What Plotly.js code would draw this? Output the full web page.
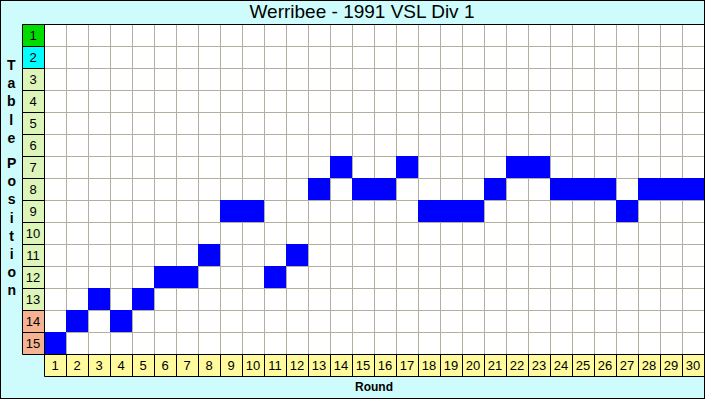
<!DOCTYPE html>
<html>
<head>
<meta charset="utf-8">
<script src="https://cdn.plot.ly/plotly-3.0.1.min.js"></script>
<style>
  html, body { margin: 0; padding: 0; background: #cefcfc; }
  #chart { width: 703px; height: 397px; border: 1px solid #000; }
</style>
</head>
<body>
<div id="chart"></div>
<script>
// ---- data ----
const chartTitle = 'Werribee - 1991 VSL Div 1';
const rounds = [1,2,3,4,5,6,7,8,9,10,11,12,13,14,15,16,17,18,19,20,21,22,23,24,25,26,27,28,29,30];
const roundLabels = ['1','2','3','4','5','6','7','8','9','10','11','12','13','14','15','16','17','18','19','20','21','22','23','24','25','26','27','28','29','30'];
const tablePositions = [1,2,3,4,5,6,7,8,9,10,11,12,13,14,15];
const positionLabels = ['1','2','3','4','5','6','7','8','9','10','11','12','13','14','15'];
const ladderPosition = [15,14,13,14,13,12,12,11,9,9,12,11,8,7,8,8,7,9,9,9,8,7,7,8,8,8,9,8,8,8];

// ---- geometry ----
const W = 682, H = 352, L = 21, T = 23;
const nCols = rounds.length + 1, nRows = tablePositions.length + 1;
const cellW = W / nCols, cellH = H / nRows;
const px = p => (p + 0.5 - L) / W;          // div pixel -> paper x (pixel centre)
const py = p => 1 - (p + 0.5 - T) / H;      // div pixel -> paper y
const colLine = k => px(L + cellW * k);
const rowLine = k => py(T + cellH * k);

// ---- main grid: one blue cell per round ----
const zMain = tablePositions.map(p => rounds.map((r, j) => ladderPosition[j] === p ? 1 : null));

// ---- label cells ----
function posCode(p) { return p === 1 ? 0 : p === 2 ? 1 : p >= 14 ? 3 : 2; }
const lblX = [0].concat(rounds);
const lblY = tablePositions.concat([tablePositions.length + 1]);
const zLbl = [], tLbl = [];
tablePositions.forEach((p, i) => {
  zLbl.push([posCode(p)].concat(rounds.map(() => null)));
  tLbl.push([positionLabels[i]].concat(rounds.map(() => '')));
});
zLbl.push([null].concat(rounds.map(() => 4)));
tLbl.push([''].concat(roundLabels));

const traces = [
  {
    type: 'heatmap', x: lblX, y: lblY, z: zLbl, text: tLbl,
    texttemplate: '%{text}',
    textfont: { family: 'Liberation Sans, Arial, sans-serif', size: 13, color: '#000' },
    zmin: 0, zmax: 4, showscale: false, hoverinfo: 'skip',
    colorscale: [[0, '#00dc00'], [0.25, '#00ffff'], [0.5, '#ddf5b8'], [0.75, '#f6b392'], [1, '#fffb9c']]
  },
  {
    type: 'heatmap', x: rounds, y: tablePositions, z: zMain,
    zmin: 0, zmax: 1, showscale: false, hoverinfo: 'skip',
    colorscale: [[0, '#0000ff'], [1, '#0000ff']]
  }
];

// ---- black frame lines ----
const shapes = [];
const line = (x0, y0, x1, y1) => shapes.push({
  type: 'line', xref: 'paper', yref: 'paper', x0, y0, x1, y1,
  line: { color: '#000', width: 1 }, layer: 'above'
});
// corner cell background
shapes.push({ type: 'rect', xref: 'paper', yref: 'paper', x0: -0.01, x1: 1 / nCols, y0: -0.01, y1: 1 / nRows,
  fillcolor: '#cefcfc', line: { width: 0 }, layer: 'above' });
line(colLine(0), rowLine(0), 1.01, rowLine(0));                   // top
line(colLine(0), rowLine(0), colLine(0), rowLine(nRows - 1));     // left of label column
line(colLine(1), rowLine(0), colLine(1), rowLine(nRows));         // right of label column
line(colLine(0), rowLine(nRows - 1), 1.01, rowLine(nRows - 1));   // top of round row
line(colLine(1), rowLine(nRows), 1.01, rowLine(nRows));           // bottom of round row
for (let k = 1; k < nRows - 1; k++) line(colLine(0), rowLine(k), colLine(1), rowLine(k));
for (let k = 2; k < nCols; k++) line(colLine(k), rowLine(nRows - 1), colLine(k), rowLine(nRows));

const gridX = rounds.slice(1).map(r => r - 0.5);
const gridY = tablePositions.slice(1).map(p => p - 0.5);

const layout = {
  width: 703, height: 397,
  margin: { l: L, r: 0, t: T, b: 397 - T - H, pad: 0 },
  paper_bgcolor: '#cefcfc', plot_bgcolor: '#ffffff',
  font: { family: 'Liberation Sans, Arial, sans-serif', color: '#000' },
  title: { text: chartTitle, x: 361 / 703, xanchor: 'center', xref: 'container',
           y: 1 - 10 / 397, yanchor: 'middle', yref: 'container',
           font: { size: 19, family: 'Liberation Sans, Arial, sans-serif', color: '#000' } },
  xaxis: { range: [-0.5, rounds.length + 0.5], tickmode: 'array', tickvals: gridX,
           showticklabels: false, ticks: '', showgrid: true, gridcolor: '#b4aea0', gridwidth: 1,
           zeroline: false, showline: false, fixedrange: true },
  yaxis: { range: [tablePositions.length + 1.5, 0.5], tickmode: 'array', tickvals: gridY,
           showticklabels: false, ticks: '', showgrid: true, gridcolor: '#b4aea0', gridwidth: 1,
           zeroline: false, showline: false, fixedrange: true },
  shapes: shapes,
  annotations: [
    { text: '<b>Round</b>', xref: 'paper', yref: 'paper', x: (373 - L) / W, y: 1 - (386 - T) / H,
      xanchor: 'center', yanchor: 'middle', showarrow: false, font: { size: 12 } },
    { text: '<b>T<br>a<br>b<br>l<br>e</b>', xref: 'paper', yref: 'paper', x: (10 - L) / W, y: 1 - (100 - T) / H,
      xanchor: 'center', yanchor: 'middle', showarrow: false, font: { size: 14 } },
    { text: '<b>P<br>o<br>s<br>i<br>t<br>i<br>o<br>n</b>', xref: 'paper', yref: 'paper', x: (10 - L) / W, y: 1 - (225 - T) / H,
      xanchor: 'center', yanchor: 'middle', showarrow: false, font: { size: 14 } }
  ],
  showlegend: false
};

Plotly.newPlot('chart', traces, layout, { staticPlot: true, displayModeBar: false });
</script>
</body>
</html>
